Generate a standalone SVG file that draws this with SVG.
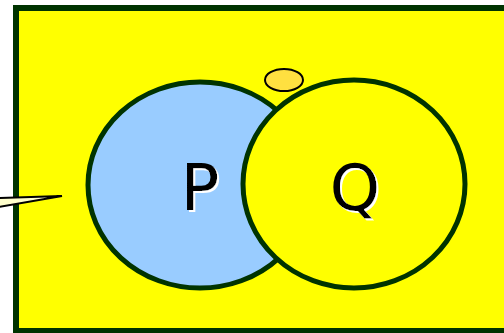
<svg xmlns="http://www.w3.org/2000/svg" width="504" height="333" viewBox="0 0 504 333">
<defs>
<filter id="sh" x="-20%" y="-20%" width="150%" height="150%">
<feFlood flood-color="#ffffff" result="w"/>
<feComposite in="w" in2="SourceAlpha" operator="in" result="ws"/>
<feOffset in="ws" dx="2" dy="2" result="off"/>
<feMerge><feMergeNode in="off"/><feMergeNode in="SourceGraphic"/></feMerge>
</filter>
</defs>
<style>
.set{stroke:#003300;stroke-width:5}
.lbl{font-family:"DejaVu Sans",sans-serif;font-size:64px;text-anchor:middle;fill:#000000;filter:url(#sh)}
</style>
<rect x="0" y="0" width="504" height="333" fill="#ffffff"/>
<g id="frame"><rect x="16" y="8" width="500" height="323" fill="#ffff00" stroke="#003300" stroke-width="6"/></g>
<g id="connectors">
<polygon points="-2,198 62,196 -2,207" fill="#ffffcc" stroke="#000000" stroke-width="2" stroke-linejoin="miter"/>
</g>
<g id="P">
<ellipse cx="200" cy="185" rx="112" ry="103" fill="#99ccff" class="set"/>
<text x="200" y="210" class="lbl">P</text>
</g>
<g id="Q">
<ellipse cx="354" cy="184" rx="111" ry="104" fill="#ffff00" class="set"/>
<text x="355" y="210" class="lbl">Q</text>
</g>
<g id="dot"><ellipse cx="284" cy="80" rx="19" ry="11" fill="#ffe040" stroke="#000000" stroke-width="2"/></g>
</svg>
